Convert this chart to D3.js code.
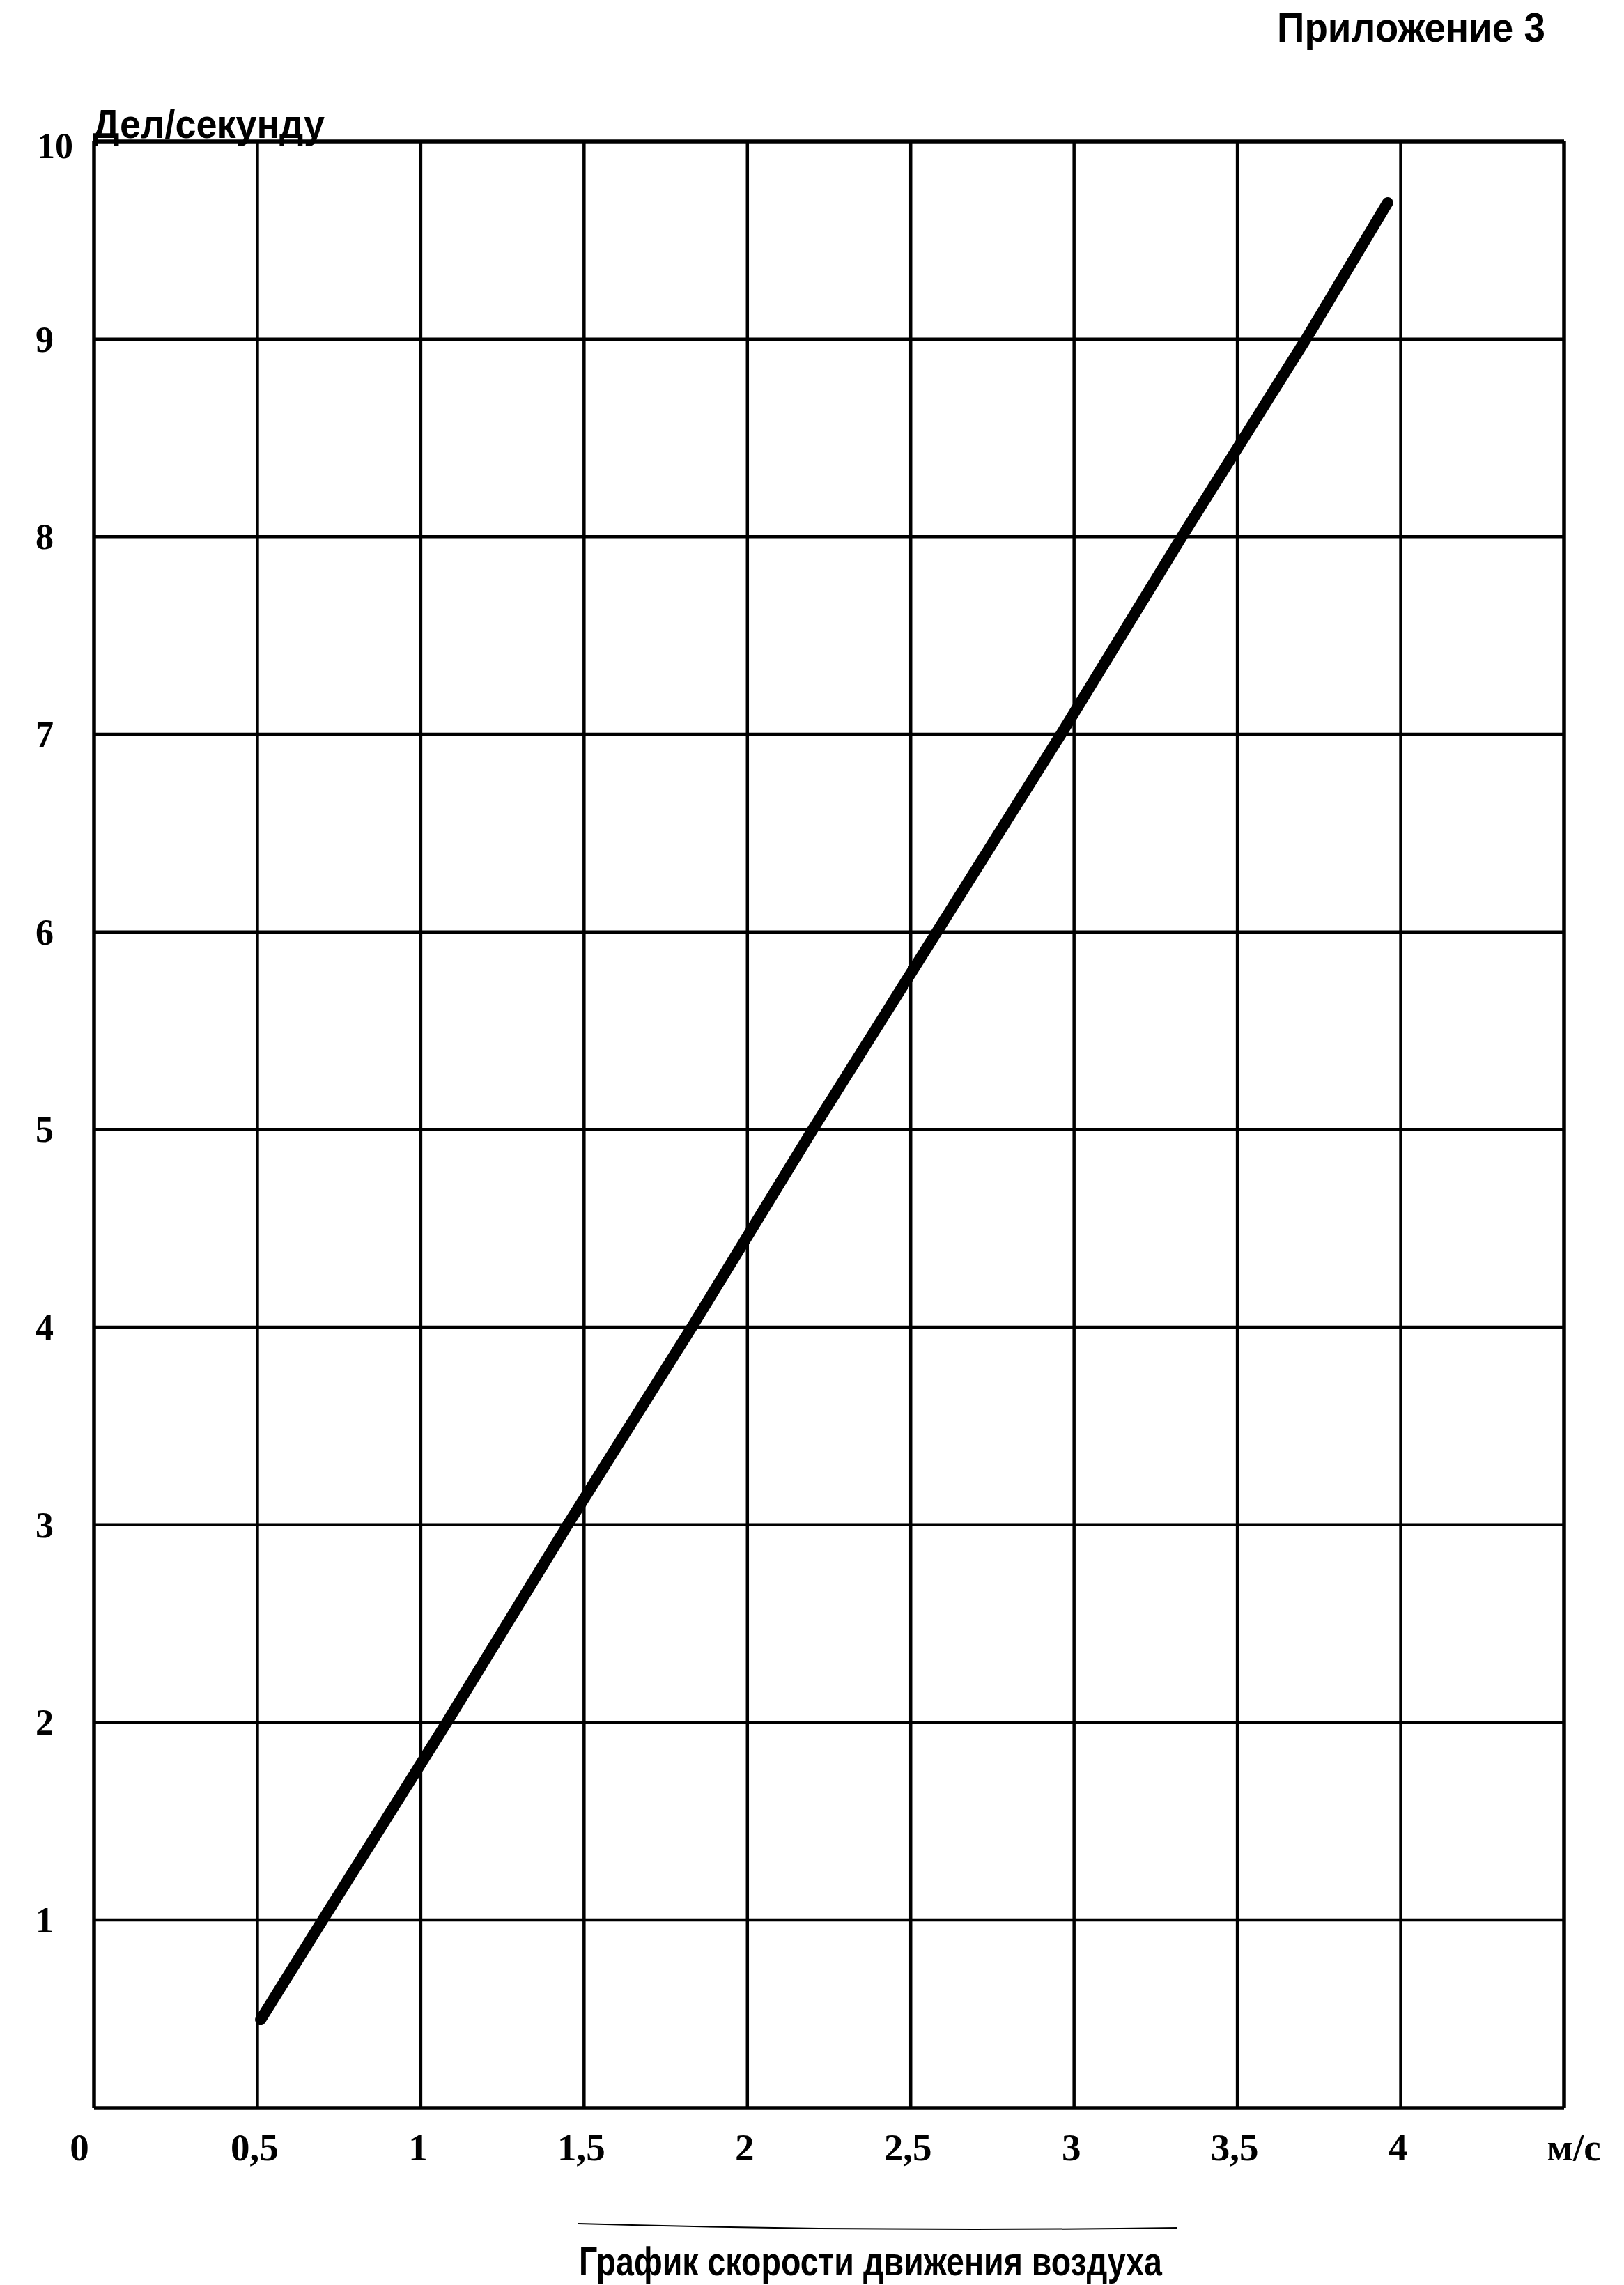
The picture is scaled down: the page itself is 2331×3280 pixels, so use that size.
<!DOCTYPE html>
<html>
<head>
<meta charset="utf-8">
<script src="https://cdn.jsdelivr.net/npm/d3@7"></script>
<style>
  html, body { margin: 0; padding: 0; background: #fff; }
  svg { display: block; }
</style>
</head>
<body>
<svg id="chart" width="2331" height="3280"></svg>
<script>
// ---- data ----
const xTicks = [0, 0.5, 1, 1.5, 2, 2.5, 3, 3.5, 4];
const xTickLabels = ["0", "0,5", "1", "1,5", "2", "2,5", "3", "3,5", "4"];
const xGrid = [0, 0.5, 1, 1.5, 2, 2.5, 3, 3.5, 4, 4.5];
const yTicks = [1, 2, 3, 4, 5, 6, 7, 8, 9, 10];
const yTickLabels = ["1", "2", "3", "4", "5", "6", "7", "8", "9", "10"];
const yGrid = [0, 1, 2, 3, 4, 5, 6, 7, 8, 9, 10];
// air speed (m/s) vs divisions per second, read where the line crosses the grid
const speed = [0.51, 0.70, 1.08, 1.45, 1.83, 2.20, 2.58, 2.96, 3.33, 3.71, 3.96];
const divs  = [0.47, 1.0, 2.0, 3.0, 4.0, 5.0, 6.0, 7.0, 8.0, 9.0, 9.69];

const title = "График скорости движения воздуха";
const yTitle = "Дел/секунду";
const xUnit = "м/с";
const appendix = "Приложение 3";

// ---- layout ----
const svg = d3.select("#chart");
const pLeft = 135, pRight = 2245, pTop = 203, pBottom = 3026;

const x = d3.scaleLinear().domain([0, 4.5]).range([pLeft, pRight]);
// the printed grid has a slightly shorter bottom row
const y = d3.scaleLinear().domain([0, 1, 10]).range([pBottom, 2756, pTop]);

const serif = "'Liberation Serif', 'DejaVu Serif', serif";
const sans = "'Liberation Sans', Arial, sans-serif";

// grid: vertical
svg.append("g").selectAll("line").data(xGrid).join("line")
  .attr("x1", d => x(d)).attr("x2", d => x(d))
  .attr("y1", pTop).attr("y2", pBottom)
  .attr("stroke", "#000")
  .attr("stroke-width", (d, i) => (i === 0 || i === xGrid.length - 1) ? 5.5 : 4.5);

// grid: horizontal
svg.append("g").selectAll("line").data(yGrid).join("line")
  .attr("x1", pLeft).attr("x2", pRight)
  .attr("y1", d => y(d)).attr("y2", d => y(d))
  .attr("stroke", "#000")
  .attr("stroke-width", (d, i) => (i === 0 || i === yGrid.length - 1) ? 5.5 : 4.5);

// data line
const pts = speed.map((s, i) => [s, divs[i]]);
svg.append("path")
  .datum(pts)
  .attr("d", d3.line().x(d => x(d[0])).y(d => y(d[1])))
  .attr("fill", "none")
  .attr("stroke", "#000")
  .attr("stroke-width", 16)
  .attr("stroke-linecap", "round")
  .attr("stroke-linejoin", "round");

// x tick labels
svg.append("g").selectAll("text").data(xTicks).join("text")
  .attr("x", (d, i) => i === 0 ? x(d) - 21 : x(d) - 4)
  .attr("y", 3101)
  .attr("text-anchor", "middle")
  .attr("font-family", serif)
  .attr("font-weight", "bold")
  .attr("font-size", 55)
  .attr("fill", "#000")
  .text((d, i) => xTickLabels[i]);

// x unit
svg.append("text")
  .attr("x", x(4.5) + 14).attr("y", 3101)
  .attr("text-anchor", "middle")
  .attr("font-family", serif)
  .attr("font-weight", "bold")
  .attr("font-size", 55)
  .attr("fill", "#000")
  .text(xUnit);

// y tick labels
svg.append("g").selectAll("text").data(yTicks).join("text")
  .attr("x", d => d === 10 ? 79 : 64)
  .attr("y", d => y(d) + (d === 10 ? 24 : 18))
  .attr("text-anchor", "middle")
  .attr("font-family", serif)
  .attr("font-weight", "bold")
  .attr("font-size", 52)
  .attr("fill", "#000")
  .text((d, i) => yTickLabels[i]);

// y title
svg.append("text")
  .attr("x", 133).attr("y", 198)
  .attr("font-family", sans)
  .attr("font-weight", "bold")
  .attr("font-size", 58)
  .attr("textLength", 333)
  .attr("lengthAdjust", "spacingAndGlyphs")
  .attr("fill", "#000")
  .text(yTitle);

// appendix label
svg.append("text")
  .attr("x", 1833).attr("y", 60)
  .attr("font-family", sans)
  .attr("font-weight", "bold")
  .attr("font-size", 60)
  .attr("textLength", 385)
  .attr("lengthAdjust", "spacingAndGlyphs")
  .attr("fill", "#000")
  .text(appendix);

// bottom caption with thin rule above
svg.append("path")
  .attr("d", "M830,3192 Q1250,3204 1690,3198")
  .attr("fill", "none")
  .attr("stroke", "#000")
  .attr("stroke-width", 2);

svg.append("text")
  .attr("x", 831).attr("y", 3266)
  .attr("font-family", sans)
  .attr("font-weight", "bold")
  .attr("font-size", 58)
  .attr("textLength", 837)
  .attr("lengthAdjust", "spacingAndGlyphs")
  .attr("fill", "#000")
  .text(title);
</script>
</body>
</html>
